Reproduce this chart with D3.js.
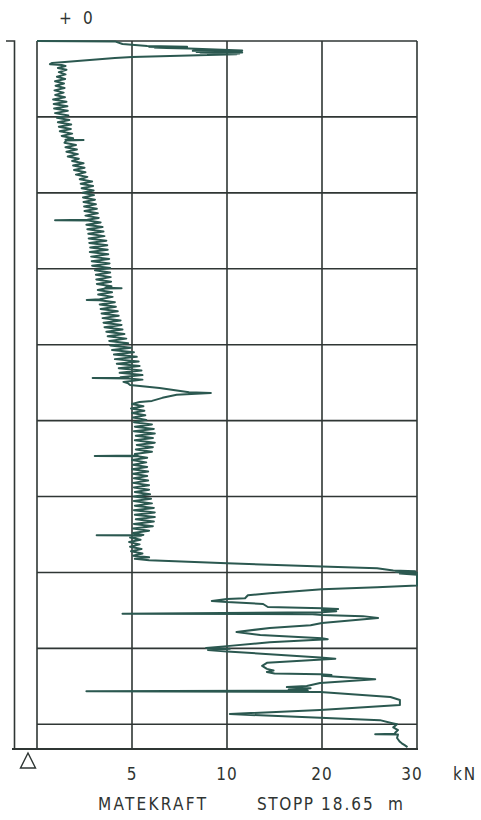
<!DOCTYPE html>
<html>
<head>
<meta charset="utf-8">
<script src="https://cdn.jsdelivr.net/npm/d3@7"></script>
<style>
  html, body { margin: 0; padding: 0; background: #fff; }
  svg { display: block; }
  text { font-family: "Liberation Sans Narrow", "DejaVu Sans Condensed", "Arial Narrow", "Liberation Sans", sans-serif; fill: #2f3432; }
</style>
</head>
<body>
<svg id="chart" width="481" height="820"></svg>
<script>
// ---- data ----
const forceBreaks = [0, 5, 10, 20, 30];          // kN, grid columns (non-linear)
const forceLabels = [5, 10, 20, 30];
const depthGrid = [0, 2, 4, 6, 8, 10, 12, 14, 16, 18];
const stopDepth = 18.65;                          // m
const unitLabel = "kN";
const titleWords = ["MATEKRAFT", "STOPP", "18.65", "m"];
const topLabel = ["+", "0"];

// depth (m) and feed force (kN)
const depthM = [
  0.00,0.01,0.08,0.13,0.15,0.16,0.17,0.18,0.20,0.25,0.26,0.27,0.29,0.30,0.31,0.33,0.34,0.35,0.42,0.45,0.58,0.61,0.63,
  0.66,0.71,0.76,0.82,0.88,0.94,1.00,1.06,1.12,1.18,1.24,1.30,1.36,1.42,1.48,1.54,1.60,1.66,1.72,1.78,1.84,1.90,1.96,
  2.02,2.08,2.14,2.20,2.26,2.32,2.38,2.44,2.50,2.56,2.60,2.61,2.62,2.68,2.74,2.80,2.86,2.92,2.98,3.04,3.10,
  3.16,3.22,3.28,3.34,3.40,3.46,3.52,3.58,3.64,3.70,3.76,3.82,3.88,3.94,4.00,4.06,4.12,4.18,
  4.24,4.30,4.36,4.42,4.48,4.54,4.60,4.66,4.71,4.72,4.73,4.78,4.84,4.90,4.96,5.02,5.08,5.14,5.20,5.26,5.32,5.38,5.44,5.50,
  5.56,5.62,5.68,5.74,5.80,5.86,5.92,5.98,6.04,6.10,6.16,6.22,6.28,6.34,6.40,6.46,6.50,6.51,6.52,6.56,6.62,6.68,6.74,6.80,6.82,6.83,
  6.88,6.94,7.00,7.06,7.12,7.18,7.24,7.30,7.36,7.42,7.48,7.54,7.60,7.66,7.72,7.78,7.84,7.90,7.96,8.02,
  8.08,8.14,8.20,8.26,8.32,8.38,8.44,8.50,8.56,8.62,8.68,8.74,8.80,8.86,8.87,8.88,8.89,8.92,8.98,9.02,
  9.06,9.14,9.25,9.27,9.32,9.40,9.48,9.51,
  9.56,9.62,9.68,9.74,9.80,9.86,9.92,9.98,10.04,10.10,10.16,10.22,10.28,10.34,10.40,10.46,10.52,10.58,10.64,10.70,10.76,10.82,10.88,10.92,10.93,10.94,
  10.98,11.04,11.10,11.16,11.22,11.28,11.34,11.40,11.46,11.52,11.58,11.64,11.70,11.76,11.82,11.88,11.94,12.00,12.06,
  12.12,12.18,12.24,12.30,12.36,12.42,12.48,12.54,12.60,12.66,12.72,12.78,12.84,12.90,12.96,13.01,13.02,13.03,
  13.08,13.14,13.20,13.26,13.32,13.38,13.44,13.50,13.56,13.60,13.64,13.68,
  13.76,13.84,13.89,13.95,13.97,13.99,14.01,14.03,14.06,14.34,14.39,14.44,14.55,14.60,14.68,14.70,14.75,14.78,14.83,14.91,
  14.94,14.96,14.99,15.02,15.05,15.09,15.10,15.12,15.15,15.20,15.33,15.39,15.46,15.57,15.65,15.73,15.76,15.84,15.94,
  15.99,16.01,16.04,16.08,16.24,16.27,16.38,16.46,16.54,16.58,16.62,16.66,16.68,16.70,16.72,16.74,16.81,16.91,
  16.99,17.02,17.05,17.08,17.11,17.13,17.15,17.28,17.36,17.49,17.62,17.73,17.83,17.89,
  17.97,18.00,18.08,18.15,18.22,18.25,18.26,18.27,18.36,18.46,18.50,18.55,18.60
];
const forceKN = [
  0.0,4.1,4.5,5.8,7.9,5.9,7.9,6.2,8.0,11.6,8.2,11.5,8.4,11.6,8.6,11.3,9.0,11.0,5.0,4.1,0.8,0.68,1.3,
  1.50,1.10,1.55,1.15,1.50,1.05,1.48,0.95,1.42,0.98,1.45,0.92,1.40,0.96,1.47,0.85,1.55,0.88,1.60,0.90,1.62,0.95,1.65,
  1.05,1.70,1.10,1.80,1.15,1.78,1.20,1.85,1.30,1.90,1.50,2.45,1.55,1.45,2.05,1.50,2.10,1.55,2.15,1.62,2.20,
  1.85,2.45,1.90,2.50,1.95,2.55,2.05,2.65,2.25,2.90,2.30,2.95,2.35,2.98,2.40,3.00,2.42,3.05,
  2.45,3.10,2.48,3.15,2.50,3.20,2.55,3.25,2.65,0.95,2.70,3.35,2.60,3.45,2.65,3.50,2.70,3.55,2.72,3.65,2.75,3.70,2.80,3.72,
  2.78,3.75,2.85,3.80,2.88,3.82,2.90,3.85,3.05,3.85,3.10,3.88,3.12,3.90,3.15,3.92,3.60,4.45,3.60,3.20,3.95,3.22,3.98,3.30,2.62,3.30,
  4.10,3.30,4.15,3.35,4.25,3.40,4.30,3.45,4.40,3.50,4.45,3.55,4.50,3.65,4.60,3.72,4.70,3.80,4.80,3.85,
  4.95,3.95,5.10,4.05,5.25,4.10,5.35,4.20,5.40,4.30,5.50,4.35,5.55,4.40,4.80,2.93,4.80,5.55,4.55,4.80,
  4.90,6.45,8.00,9.15,7.35,6.60,6.05,5.40,
  5.00,5.60,4.95,5.65,5.00,5.70,5.05,5.75,5.10,6.05,5.15,6.15,5.10,6.20,5.20,6.10,5.15,6.20,5.25,6.10,5.20,6.05,5.15,5.30,3.04,5.30,
  5.80,5.00,5.75,5.05,5.80,5.00,5.85,5.05,5.80,5.10,5.85,5.05,5.90,5.10,5.90,5.15,5.95,5.10,6.00,
  5.10,6.05,5.15,6.15,5.10,6.20,5.15,6.20,5.20,6.15,5.10,6.10,5.05,5.90,5.05,5.60,3.14,5.50,
  4.90,5.45,4.85,5.40,4.90,5.50,4.95,5.55,5.05,5.90,5.15,5.90,
  10.0,20.0,25.8,27.5,29.8,27.8,30.0,28.2,30.0,30.0,25.8,20.0,14.5,12.2,11.9,10.0,9.2,10.0,13.8,14.3,
  20.0,21.7,20.0,21.5,20.0,4.5,19.0,20.0,24.3,25.9,20.0,18.8,14.5,11.0,13.5,20.0,20.6,14.5,10.0,
  8.9,10.3,9.0,10.0,19.8,21.4,14.2,13.7,14.2,14.9,14.2,15.0,19.8,21.0,20.0,21.2,25.6,19.8,
  18.4,16.3,18.8,16.5,18.5,2.6,19.8,27.2,28.2,28.2,19.8,10.3,19.8,26.1,
  27.4,27.9,27.5,28.0,27.7,27.7,25.6,28.0,27.9,28.2,28.4,28.7,29.0
];
if (depthM.length !== forceKN.length) {
  throw new Error("length mismatch " + depthM.length + " vs " + forceKN.length);
}

// ---- layout ----
const svg = d3.select("#chart");
const plotL = 37, plotR = 417, plotT = 41, plotB = 749;
const gridColor = "#2f3634";
const curveColor = "#2b5850";

const x = d3.scaleLinear()
  .domain(forceBreaks)
  .range(forceBreaks.map((d, i) => plotL + (plotR - plotL) * i / (forceBreaks.length - 1)));
const y = d3.scaleLinear().domain([0, stopDepth]).range([plotT, plotB]);

// frame + grid
const g = svg.append("g");
g.selectAll("line.v").data(forceBreaks).join("line")
  .attr("class", "v")
  .attr("x1", d => x(d)).attr("x2", d => x(d))
  .attr("y1", y(0)).attr("y2", y(stopDepth))
  .attr("stroke", gridColor).attr("stroke-width", 1.6);
g.selectAll("line.h").data(depthGrid).join("line")
  .attr("class", "h")
  .attr("x1", x(0)).attr("x2", x(30))
  .attr("y1", d => y(d)).attr("y2", d => y(d))
  .attr("stroke", gridColor).attr("stroke-width", 1.6);
// bottom (stop) line, extended to the left
g.append("line")
  .attr("x1", 12).attr("x2", x(30) + 1)
  .attr("y1", y(stopDepth)).attr("y2", y(stopDepth))
  .attr("stroke", gridColor).attr("stroke-width", 1.8);
// left depth bracket
g.append("path")
  .attr("d", `M6,${y(0)} H14.5 V${y(stopDepth)}`)
  .attr("fill", "none").attr("stroke", gridColor).attr("stroke-width", 1.6);
// triangle marker
g.append("path")
  .attr("d", `M28,${y(stopDepth) + 4} L20.5,${y(stopDepth) + 19} L35.5,${y(stopDepth) + 19} Z`)
  .attr("fill", "none").attr("stroke", gridColor).attr("stroke-width", 1.4);

// curve
const pts = depthM.map((d, i) => [forceKN[i], d]);
svg.append("path")
  .datum(pts)
  .attr("fill", "none")
  .attr("stroke", curveColor)
  .attr("stroke-width", 2)
  .attr("stroke-linejoin", "round")
  .attr("d", d3.line().x(d => x(d[0])).y(d => y(d[1])));

// labels
const fs = 17;
svg.selectAll("text.tick").data(forceLabels).join("text")
  .attr("class", "tick")
  .attr("x", (d, i) => x(d) + (i === forceLabels.length - 1 ? -5 : 0))
  .attr("y", 780)
  .attr("text-anchor", "middle")
  .attr("font-size", fs)
  .attr("letter-spacing", 1)
  .text(d => d);
svg.append("text").attr("x", 453).attr("y", 780).attr("font-size", fs)
  .attr("letter-spacing", 2).text(unitLabel);
svg.append("text").attr("x", 59).attr("y", 24).attr("font-size", fs).text(topLabel[0]);
svg.append("text").attr("x", 83).attr("y", 24).attr("font-size", fs).text(topLabel[1]);

const titleX = [98, 257, 321, 388];
const titleSpacing = [2.3, 1.6, 2, 0];
svg.selectAll("text.title").data(titleWords).join("text")
  .attr("class", "title")
  .attr("x", (d, i) => titleX[i])
  .attr("y", 810)
  .attr("font-size", fs)
  .attr("letter-spacing", (d, i) => titleSpacing[i])
  .text(d => d);
</script>
</body>
</html>
